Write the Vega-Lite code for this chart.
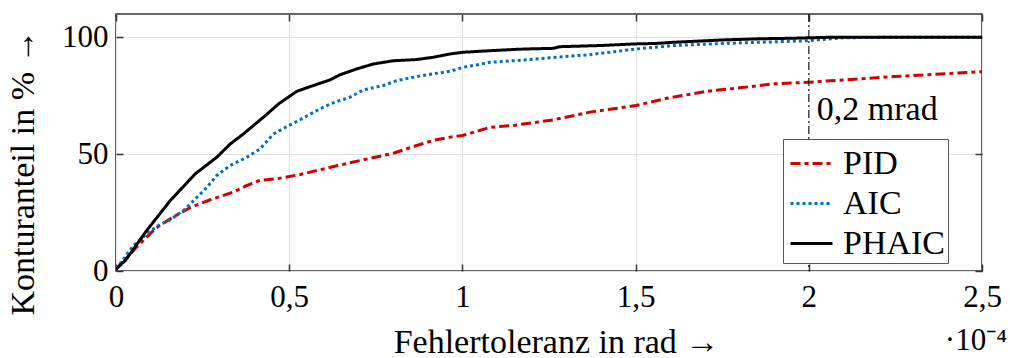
{
  "$schema": "https://vega.github.io/schema/vega-lite/v6.json",
  "width": 866,
  "height": 257,
  "autosize": {"type": "none"},
  "padding": {"left": 116, "top": 14, "right": 28, "bottom": 87},
  "config": {
    "font": "Liberation Serif",
    "view": {"stroke": "#333", "strokeWidth": 1.5},
    "axis": {
      "labelFont": "Liberation Serif", "labelFontSize": 31, "labelColor": "#000",
      "titleFont": "Liberation Serif", "titleFontSize": 34, "titleFontWeight": "normal", "titleColor": "#000",
      "domain": false, "tickColor": "#333", "tickSize": -7, "tickWidth": 1.5,
      "gridColor": "#e3e3e3", "gridWidth": 1
    },
    "legend": {"labelFont": "Liberation Serif", "labelFontSize": 34, "labelColor": "#000", "symbolType": "stroke", "symbolSize": 1764, "symbolStrokeWidth": 3, "symbolOffset": 4, "strokeColor": "#555", "fillColor": "#fff", "padding": 2, "rowPadding": -6, "labelOffset": 9}
  },
  "datasets": {
    "curves": [
      {"s": "PID", "x": 0, "y": 0.8}, {"s": "PID", "x": 0.06, "y": 10.3}, {"s": "PID", "x": 0.113, "y": 18.1}, {"s": "PID", "x": 0.157, "y": 22.4}, {"s": "PID", "x": 0.214, "y": 27.1}, {"s": "PID", "x": 0.272, "y": 30.5}, {"s": "PID", "x": 0.339, "y": 33.8}, {"s": "PID", "x": 0.378, "y": 36.6}, {"s": "PID", "x": 0.416, "y": 38.8}, {"s": "PID", "x": 0.465, "y": 39.5}, {"s": "PID", "x": 0.532, "y": 41.3}, {"s": "PID", "x": 0.628, "y": 44.7}, {"s": "PID", "x": 0.705, "y": 47.3}, {"s": "PID", "x": 0.801, "y": 50.4}, {"s": "PID", "x": 0.868, "y": 53.7}, {"s": "PID", "x": 0.916, "y": 55.9}, {"s": "PID", "x": 0.965, "y": 57.3}, {"s": "PID", "x": 1.0, "y": 58}, {"s": "PID", "x": 1.08, "y": 61.5}, {"s": "PID", "x": 1.147, "y": 62.3}, {"s": "PID", "x": 1.263, "y": 64.7}, {"s": "PID", "x": 1.368, "y": 68}, {"s": "PID", "x": 1.5, "y": 70.8}, {"s": "PID", "x": 1.59, "y": 73.9}, {"s": "PID", "x": 1.705, "y": 76.9}, {"s": "PID", "x": 1.801, "y": 78.4}, {"s": "PID", "x": 1.897, "y": 80.1}, {"s": "PID", "x": 2.0, "y": 80.8}, {"s": "PID", "x": 2.244, "y": 83.2}, {"s": "PID", "x": 2.5, "y": 85.3},
      {"s": "AIC", "x": 0, "y": 0.8}, {"s": "AIC", "x": 0.051, "y": 11}, {"s": "AIC", "x": 0.089, "y": 16}, {"s": "AIC", "x": 0.118, "y": 19.1}, {"s": "AIC", "x": 0.157, "y": 22}, {"s": "AIC", "x": 0.195, "y": 25.9}, {"s": "AIC", "x": 0.234, "y": 31.6}, {"s": "AIC", "x": 0.263, "y": 35.9}, {"s": "AIC", "x": 0.291, "y": 40.9}, {"s": "AIC", "x": 0.33, "y": 45.2}, {"s": "AIC", "x": 0.378, "y": 48.7}, {"s": "AIC", "x": 0.416, "y": 52.3}, {"s": "AIC", "x": 0.455, "y": 58.7}, {"s": "AIC", "x": 0.493, "y": 61.8}, {"s": "AIC", "x": 0.532, "y": 64.8}, {"s": "AIC", "x": 0.58, "y": 68.7}, {"s": "AIC", "x": 0.618, "y": 71.5}, {"s": "AIC", "x": 0.676, "y": 74.4}, {"s": "AIC", "x": 0.714, "y": 77.5}, {"s": "AIC", "x": 0.772, "y": 79.4}, {"s": "AIC", "x": 0.811, "y": 81.5}, {"s": "AIC", "x": 0.868, "y": 83.2}, {"s": "AIC", "x": 0.916, "y": 84.4}, {"s": "AIC", "x": 0.965, "y": 85.5}, {"s": "AIC", "x": 1.003, "y": 87.2}, {"s": "AIC", "x": 1.08, "y": 89.3}, {"s": "AIC", "x": 1.176, "y": 90.3}, {"s": "AIC", "x": 1.272, "y": 91.5}, {"s": "AIC", "x": 1.368, "y": 92.6}, {"s": "AIC", "x": 1.5, "y": 95}, {"s": "AIC", "x": 1.609, "y": 96.5}, {"s": "AIC", "x": 1.753, "y": 97.4}, {"s": "AIC", "x": 1.859, "y": 97.9}, {"s": "AIC", "x": 1.945, "y": 98.3}, {"s": "AIC", "x": 2.0, "y": 98.6}, {"s": "AIC", "x": 2.1, "y": 99.8}, {"s": "AIC", "x": 2.2, "y": 100}, {"s": "AIC", "x": 2.5, "y": 100},
      {"s": "PHAIC", "x": 0, "y": 0.8}, {"s": "PHAIC", "x": 0.027, "y": 4.5}, {"s": "PHAIC", "x": 0.089, "y": 17.4}, {"s": "PHAIC", "x": 0.157, "y": 30.2}, {"s": "PHAIC", "x": 0.229, "y": 41.6}, {"s": "PHAIC", "x": 0.291, "y": 48.7}, {"s": "PHAIC", "x": 0.33, "y": 54.4}, {"s": "PHAIC", "x": 0.368, "y": 58.7}, {"s": "PHAIC", "x": 0.431, "y": 66.5}, {"s": "PHAIC", "x": 0.469, "y": 71.5}, {"s": "PHAIC", "x": 0.522, "y": 76.9}, {"s": "PHAIC", "x": 0.57, "y": 79.4}, {"s": "PHAIC", "x": 0.618, "y": 81.8}, {"s": "PHAIC", "x": 0.647, "y": 84}, {"s": "PHAIC", "x": 0.695, "y": 86.5}, {"s": "PHAIC", "x": 0.743, "y": 88.6}, {"s": "PHAIC", "x": 0.801, "y": 90}, {"s": "PHAIC", "x": 0.868, "y": 90.5}, {"s": "PHAIC", "x": 0.916, "y": 91.5}, {"s": "PHAIC", "x": 0.965, "y": 92.9}, {"s": "PHAIC", "x": 1.0, "y": 93.6}, {"s": "PHAIC", "x": 1.08, "y": 94.3}, {"s": "PHAIC", "x": 1.176, "y": 95}, {"s": "PHAIC", "x": 1.263, "y": 95.3}, {"s": "PHAIC", "x": 1.28, "y": 96}, {"s": "PHAIC", "x": 1.397, "y": 96.5}, {"s": "PHAIC", "x": 1.5, "y": 97.2}, {"s": "PHAIC", "x": 1.56, "y": 97.4}, {"s": "PHAIC", "x": 1.609, "y": 97.9}, {"s": "PHAIC", "x": 1.753, "y": 98.9}, {"s": "PHAIC", "x": 1.859, "y": 99.4}, {"s": "PHAIC", "x": 1.945, "y": 99.6}, {"s": "PHAIC", "x": 2.05, "y": 100}, {"s": "PHAIC", "x": 2.5, "y": 100}
    ],
    "one": [{}]
  },
  "layer": [
    {
      "data": {"name": "curves"},
      "mark": {"type": "line", "strokeWidth": 3, "clip": true},
      "encoding": {
        "x": {"field": "x", "type": "quantitative", "scale": {"domain": [0, 2.5], "nice": false},
          "axis": {"orient": "bottom", "values": [0, 0.5, 1, 1.5, 2, 2.5], "labelExpr": "replace(toString(datum.value), '.', ',')", "title": "Fehlertoleranz in rad →", "labelPadding": 18, "titlePadding": 13, "labelFlush": false, "titleX": 440}},
        "y": {"field": "y", "type": "quantitative", "scale": {"domain": [0, 110], "nice": false},
          "axis": {"orient": "left", "values": [0, 50, 100], "title": "Konturanteil in % →", "labelPadding": 15, "titlePadding": 21, "titleY": 158}},
        "color": {"field": "s", "type": "nominal", "scale": {"domain": ["PID", "AIC", "PHAIC"], "range": ["#d40000", "#0072bd", "#000000"]},
          "legend": {"title": null, "orient": "none", "legendX": 667, "legendY": 125, "labelExpr": "datum.label + '\u00a0\u00a0\u00a0'"}},
        "strokeDash": {"field": "s", "type": "nominal", "scale": {"domain": ["PID", "AIC", "PHAIC"], "range": [[10, 4, 4, 4], [3, 3], [1, 0]]},
          "legend": {"title": null, "orient": "none", "legendX": 667, "legendY": 125, "labelExpr": "datum.label + '\u00a0\u00a0\u00a0'"}},
        "order": {"field": "x", "type": "quantitative"}
      }
    },
    {
      "data": {"name": "one"},
      "mark": {"type": "rule", "color": "#000", "strokeWidth": 1, "strokeDash": [8, 3, 2, 3]},
      "encoding": {
        "x": {"datum": 2, "type": "quantitative", "axis": {"orient": "top", "values": [0, 0.5, 1, 1.5, 2, 2.5], "labels": false, "grid": false, "title": null}}
      }
    },
    {
      "data": {"name": "one"},
      "mark": {"type": "text", "align": "left", "baseline": "middle", "dx": 8, "fontSize": 34, "font": "Liberation Serif", "color": "#000"},
      "encoding": {
        "x": {"datum": 2, "type": "quantitative", "axis": null},
        "y": {"datum": 69, "type": "quantitative", "axis": {"orient": "right", "values": [0, 50, 100], "labels": false, "grid": false, "title": null}},
        "text": {"value": "0,2 mrad"}
      }
    },
    {
      "data": {"name": "one"},
      "mark": {"type": "text", "align": "right", "baseline": "middle", "dx": 25, "fontSize": 31, "font": "Liberation Serif", "color": "#000"},
      "encoding": {
        "x": {"datum": 2.5, "type": "quantitative", "axis": null},
        "y": {"datum": -30, "type": "quantitative", "axis": null},
        "text": {"value": "·10⁻⁴"}
      }
    }
  ],
  "resolve": {"axis": {"x": "independent", "y": "independent"}}
}
